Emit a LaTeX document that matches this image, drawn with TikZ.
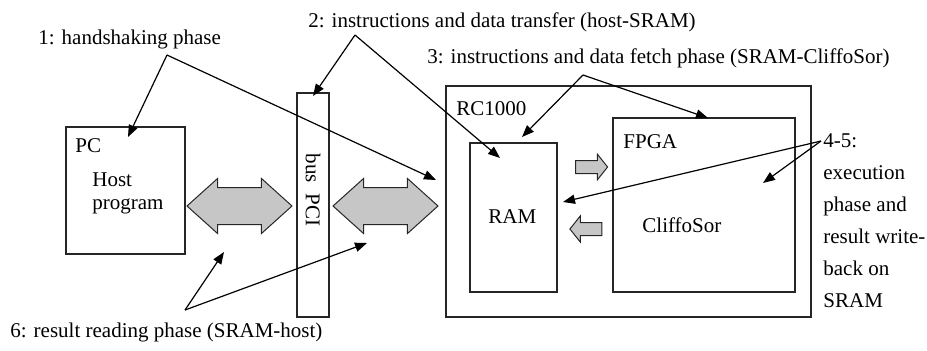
\documentclass[tikz,border=0pt]{standalone}
\usepackage{fontspec}
\setmainfont{Liberation Serif}
\usetikzlibrary{arrows.meta}
\usetikzlibrary{shapes.arrows}
\usetikzlibrary{fit}
\usetikzlibrary{positioning}

\tikzset{
    box/.style={draw=black!85, line width=0.55pt, inner sep=0pt},
    lbl/.style={font=\fontsize{10.5}{11.5}\selectfont, inner sep=0pt, anchor=base west},
    pointer/.style={line width=0.6pt, -{Triangle[length=6pt,width=4.6pt]}},
    bigarrow/.style={double arrow, draw=black!85, fill=gray!45, line width=0.5pt,
        inner xsep=0pt, inner ysep=9pt, minimum height=52.5pt,
        double arrow head extend=4.5pt, double arrow tip angle=84},
    smallarrow/.style={single arrow, draw=black!85, fill=gray!45, line width=0.5pt,
        inner xsep=0pt, inner ysep=3pt, minimum height=16pt,
        single arrow head extend=3.25pt, single arrow tip angle=103},
}

\begin{document}
\begin{tikzpicture}[x=0.5pt, y=-0.5pt]
    \useasboundingbox (0,0) rectangle (927,350);

    % Boxes
    \node[box, fit={(66,127) (185,254)}] (pc) {};
    \node[box, fit={(297,93) (329,317)}] (bus) {};
    \node[box, fit={(446,86) (811,317)}] (rc) {};
    \node[box, fit={(470,143) (557,292)}] (ram) {};
    \node[box, fit={(613,118) (795,292)}] (fpga) {};

    % Box labels (multi-line ones sit on their last baseline)
    \node[lbl] (pclbl) at (75,152) {PC};
    \node[lbl, align=left] (hostlbl) at (92,209) {Host\\program};
    \node[lbl, rotate=-90, anchor=center] (buslbl) at (bus.center |- 0,190) {bus\ \ PCI};
    \node[lbl] (rclbl) at (456,115) {RC1000};
    \node[lbl] (ramlbl) at (488,223) {RAM};
    \node[lbl] (fpgalbl) at (623,148) {FPGA};
    \node[lbl] (cliflbl) at (642,232) {CliffoSor};

    % Data paths
    \node[bigarrow] (hostbus) at (239.5,206) {};
    \node[bigarrow] (busrc) at (385.5,206) {};
    \node[smallarrow] (fetch) at (589,167) {};
    \node[smallarrow, shape border rotate=180] (wback) at (588.5,229) {};

    % Phase labels
    \node[lbl] (ph1) at (38,44) {1: handshaking phase};
    \node[lbl] (ph2) at (308,27) {2: instructions and data transfer (host-SRAM)};
    \node[lbl] (ph3) at (427,63) {3: instructions and data fetch phase (SRAM-CliffoSor)};
    \node[lbl, font=\fontsize{10.5}{16}\selectfont, align=left] (ph45) at (823,307)
        {4-5:\\execution\\phase and\\result write-\\back on\\SRAM};
    \node[lbl] (ph6) at (10,337) {6: result reading phase (SRAM-host)};

    % Where the pointers start and end
    \coordinate (h1) at (167,55);
    \coordinate (h2) at (355,35);
    \coordinate (h3) at (583,75);
    \coordinate (h45) at (821,141);
    \coordinate (h6) at (185,310);
    \coordinate (pcin) at (128,137);
    \coordinate (rcin) at (436,180);
    \coordinate (bustop) at (313,96);
    \coordinate (ramin) at (500,158);
    \coordinate (ramtop) at (522,137);
    \coordinate (fpgatop) at (708,118);
    \coordinate (ramside) at (563,202);
    \coordinate (fpgain) at (763,183);
    \coordinate (lowleft) at (224,252);
    \coordinate (lowright) at (367,243);

    % Pointers
    \foreach \t in {pcin,rcin} \draw[pointer] (h1) -- (\t);
    \foreach \t in {bustop,ramin} \draw[pointer] (h2) -- (\t);
    \foreach \t in {ramtop,fpgatop} \draw[pointer] (h3) -- (\t);
    \foreach \t in {ramside,fpgain} \draw[pointer] (h45) -- (\t);
    \foreach \t in {lowleft,lowright} \draw[pointer] (h6) -- (\t);
\end{tikzpicture}
\end{document}
